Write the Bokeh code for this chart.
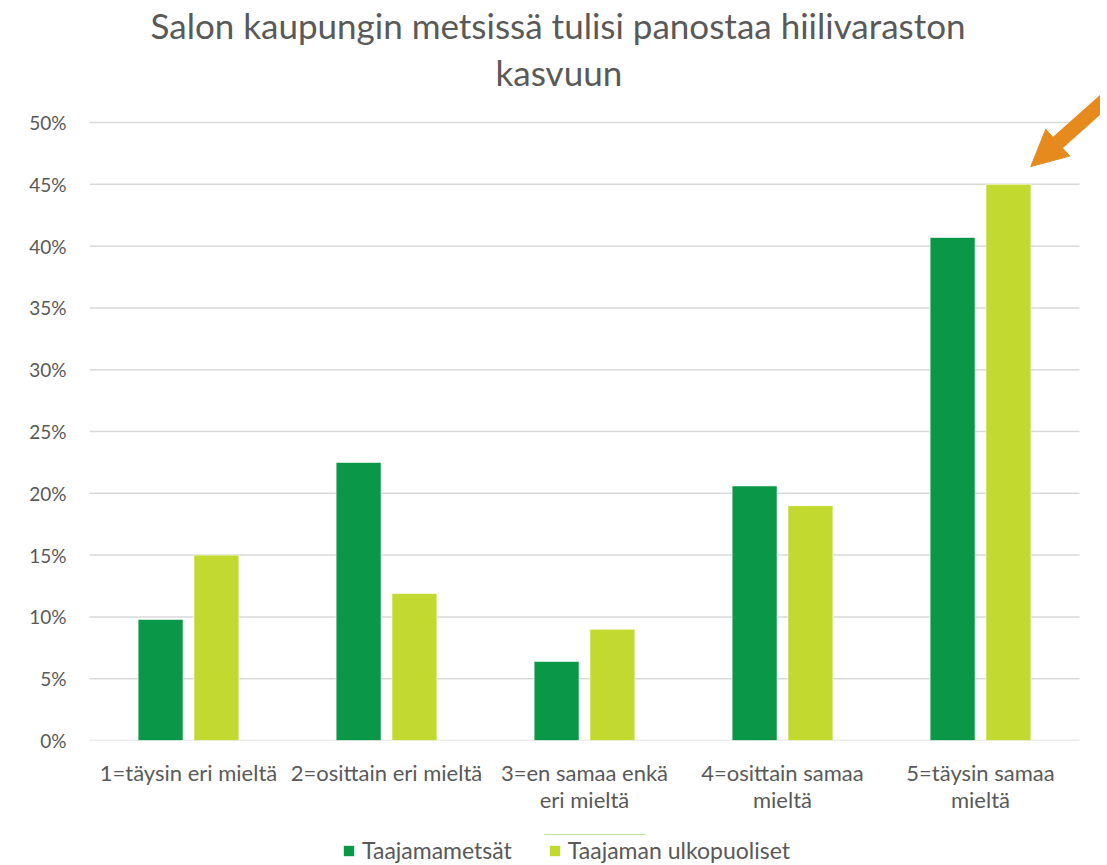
import numpy as np
from bokeh.plotting import figure
from bokeh.layouts import column
from bokeh.models import (Range1d, FixedTicker, Legend, LegendItem, Arrow, NormalHead,
                          NumeralTickFormatter, ColumnDataSource, Title)
from bokeh.embed import file_html
from bokeh.resources import INLINE

title_lines = ["Salon kaupungin metsissä tulisi panostaa hiilivaraston", "kasvuun"]
categories = ["1=täysin eri mieltä", "2=osittain eri mieltä", "3=en samaa enkä\neri mieltä",
              "4=osittain samaa\nmieltä", "5=täysin samaa\nmieltä"]
series_names = ["Taajamametsät", "Taajaman ulkopuoliset"]
taajamametsat = [0.098, 0.225, 0.064, 0.206, 0.407]
ulkopuoliset = [0.150, 0.119, 0.090, 0.190, 0.450]
y_ticks = [0, 0.05, 0.10, 0.15, 0.20, 0.25, 0.30, 0.35, 0.40, 0.45, 0.50]

DARK = "#0b9748"
LIGHT = "#c2d92f"
TXT = "#595959"
GRID = "#d9d9d9"
ORANGE = "#e68a1e"
FONT = "Lato"

# frame extends a bit beyond the gridded area so the arrow is not clipped
p = figure(width=1100, height=834, output_backend="svg", toolbar_location=None,
           x_range=Range1d(0, 5.106), y_range=Range1d(0, 0.5227),
           min_border_left=89, min_border_right=0, min_border_top=94, min_border_bottom=94)
p.outline_line_color = None

offsets = [406, 61]
standoffs = [4, 2]
for line, off, so in zip(reversed(title_lines), offsets, standoffs):
    p.add_layout(Title(text=line, align="left", offset=off, text_font=FONT, text_font_size="35px",
                       text_font_style="normal", text_color=TXT, standoff=so), "above")

ncat = len(categories)
# gridlines across the category area
p.segment(x0=[0] * len(y_ticks), x1=[ncat] * len(y_ticks), y0=y_ticks, y1=y_ticks,
          line_color=GRID, line_width=1.5)

centers = np.arange(ncat) + 0.5
src = ColumnDataSource(dict(xd=centers - 0.141, xl=centers + 0.141,
                            a=taajamametsat, b=ulkopuoliset))
p.vbar(x="xd", top="a", width=0.227, source=src, fill_color=DARK, line_color="white", line_width=0.6)
p.vbar(x="xl", top="b", width=0.227, source=src, fill_color=LIGHT, line_color="white", line_width=0.6)

# axes
p.xaxis.ticker = FixedTicker(ticks=list(centers))
p.xaxis.major_label_overrides = {float(c): lab for c, lab in zip(centers, categories)}
p.xaxis.major_label_text_font = FONT
p.xaxis.major_label_text_font_size = "22px"
p.xaxis.major_label_text_color = TXT
p.xaxis.major_label_text_line_height = 1.0
p.xaxis.major_tick_line_color = None
p.xaxis.minor_tick_line_color = None
p.xaxis.axis_line_color = None
p.xaxis.major_label_standoff = 12

p.yaxis.ticker = FixedTicker(ticks=y_ticks)
p.yaxis.formatter = NumeralTickFormatter(format="0%")
p.yaxis.major_label_text_font = FONT
p.yaxis.major_label_text_font_size = "19px"
p.yaxis.major_label_text_color = TXT
p.yaxis.major_tick_line_color = None
p.yaxis.minor_tick_line_color = None
p.yaxis.axis_line_color = None
p.yaxis.major_label_standoff = 17

p.xgrid.grid_line_color = None
p.ygrid.grid_line_color = None

# highlight arrow pointing at the top of the last light bar
tip_x = centers[-1] + 0.141 + 0.113
tip_y = ulkopuoliset[-1] + 0.0144
arrow = Arrow(end=NormalHead(size=36, fill_color=ORANGE, line_color=ORANGE),
              x_start=tip_x + 0.40, y_start=tip_y + 0.057, x_end=tip_x, y_end=tip_y,
              line_color=ORANGE, line_width=15)
p.add_layout(arrow)

# legend strip underneath (its glyphs sit above the visible range)
lg = figure(width=1100, height=30, output_backend="svg", toolbar_location=None,
            x_range=Range1d(0, 1), y_range=Range1d(0, 1), x_axis_type=None, y_axis_type=None,
            min_border=0, background_fill_color=None, border_fill_color=None)
lg.outline_line_color = None
lg.grid.visible = False
lr1 = lg.vbar(x=[0.5], bottom=[5], top=[6], width=0.1, fill_color=DARK, line_color=None)
lr2 = lg.vbar(x=[0.5], bottom=[5], top=[6], width=0.1, fill_color=LIGHT, line_color=None)
legend = Legend(items=[LegendItem(label=series_names[0], renderers=[lr1]),
                       LegendItem(label=series_names[1], renderers=[lr2])],
                orientation="horizontal", location=(253, 0),
                label_text_font=FONT, label_text_font_size="23px", label_text_color=TXT,
                glyph_width=13, glyph_height=13, spacing=36, label_standoff=7,
                border_line_color=None, background_fill_alpha=0, margin=0, padding=0)
lg.add_layout(legend, "center")

layout = column(p, lg, spacing=0)
open("out.html", "w").write(file_html(layout, INLINE))
